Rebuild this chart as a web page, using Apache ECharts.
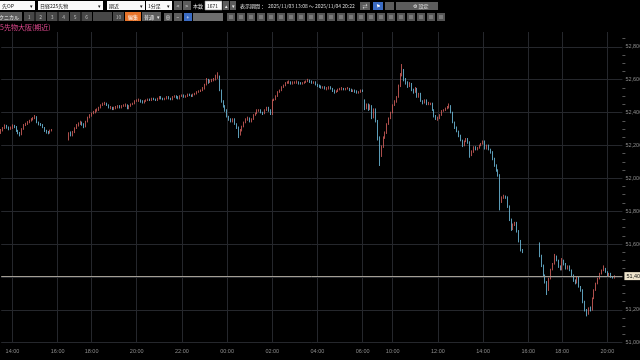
<!DOCTYPE html>
<html><head><meta charset="utf-8">
<script src="https://cdn.jsdelivr.net/npm/echarts@6/dist/echarts.min.js"></script>
<style>html,body{margin:0;padding:0;background:#000;overflow:hidden}#c{width:640px;height:360px}</style>
</head><body><div id="c"></div>
<script>
// ---- time slots (5-minute) ----
const slotSpans = [
  ['2025-11-03T13:30', '2025-11-03T16:25'],
  ['2025-11-03T17:00', '2025-11-04T06:00'],
  ['2025-11-04T08:45', '2025-11-04T16:25'],
  ['2025-11-04T17:00', '2025-11-04T20:40']
];
const tickLabels = ['11/03 14:00','11/03 16:00','11/03 18:00','11/03 20:00','11/03 22:00',
  '11/04 00:00','11/04 02:00','11/04 04:00','11/04 06:00','11/04 10:00','11/04 12:00',
  '11/04 14:00','11/04 16:00','11/04 18:00','11/04 20:00'];
const yTicks = [51000, 51200, 51400, 51600, 51800, 52000, 52200, 52400, 52600, 52800];

// ---- OHLC rows: [open, close, low, high], 5-minute bars ----
const sessA_start = '11/03 13:30';
const sessA = [
[52280,52290,52270,52300],[52290,52305,52285,52312],[52305,52320,52300,52328],[52320,52310,52302,52325],
[52310,52300,52292,52315],[52300,52305,52295,52315],[52305,52320,52300,52328],[52320,52315,52305,52325],
[52315,52290,52282,52318],[52290,52275,52268,52295],[52275,52265,52255,52282],[52265,52300,52262,52305],
[52300,52325,52295,52330],[52325,52330,52318,52338],[52330,52340,52325,52348],[52340,52350,52335,52356],
[52350,52360,52345,52366],[52360,52365,52352,52372],[52365,52375,52360,52385],[52375,52340,52335,52378],
[52340,52330,52322,52345],[52330,52325,52318,52336],[52325,52310,52305,52330],[52310,52290,52282,52312],
[52290,52280,52272,52295],[52280,52275,52268,52288],[52275,52290,52272,52296],[52290,52295,52285,52300]
];
const sessB_start = '11/03 17:00';
const sessB = [
[52245,52275,52230,52280],[52275,52260,52255,52285],[52260,52280,52255,52288],[52280,52305,52275,52310],
[52305,52325,52300,52330],[52325,52330,52315,52340],[52330,52340,52325,52350],[52340,52330,52320,52345],
[52330,52315,52305,52335],[52315,52345,52310,52350],[52345,52370,52340,52375],[52370,52385,52365,52390],
[52385,52395,52375,52400],[52395,52400,52390,52410],[52400,52415,52395,52420],[52415,52415,52405,52425],
[52415,52430,52410,52435],[52430,52445,52425,52450],[52445,52450,52440,52460],[52450,52455,52445,52465],
[52455,52445,52440,52460],[52445,52430,52425,52450],[52430,52430,52420,52440],[52430,52425,52415,52435],
[52425,52425,52415,52435],[52425,52430,52420,52440],[52430,52440,52425,52445],[52440,52430,52425,52445],
[52430,52440,52425,52445],[52440,52445,52435,52450],[52445,52445,52435,52455],[52445,52425,52420,52450],
[52425,52440,52420,52445],[52440,52450,52435,52455],[52450,52455,52445,52460],[52455,52470,52450,52475],
[52470,52475,52465,52480],[52475,52475,52465,52485],[52475,52470,52460,52480],[52470,52460,52455,52475],
[52460,52470,52455,52475],[52470,52475,52465,52480],[52475,52480,52470,52485],[52480,52475,52470,52485],
[52475,52485,52470,52490],[52485,52480,52475,52490],[52480,52475,52470,52485],[52475,52485,52470,52490],
[52485,52495,52480,52500],[52495,52485,52480,52500],[52485,52480,52475,52490],[52480,52485,52475,52490],
[52485,52495,52480,52500],[52495,52485,52480,52500],[52485,52480,52475,52490],[52480,52495,52475,52500],
[52495,52500,52490,52505],[52500,52495,52485,52505],[52495,52485,52480,52500],[52485,52500,52480,52505],
[52500,52505,52495,52510],[52505,52495,52490,52510],[52495,52500,52490,52505],[52500,52510,52495,52515],
[52510,52505,52500,52515],[52505,52500,52495,52510],[52500,52510,52495,52515],[52510,52515,52505,52520],
[52515,52525,52510,52530],[52525,52530,52520,52535],[52530,52535,52525,52540],[52535,52545,52530,52555],
[52545,52570,52540,52575],[52570,52600,52565,52610],[52600,52585,52575,52605],[52585,52590,52580,52600],
[52590,52595,52585,52605],[52595,52600,52590,52610],[52600,52620,52595,52630],[52620,52620,52605,52645],
[52620,52535,52530,52625],[52535,52470,52460,52540],[52470,52440,52430,52475],[52440,52415,52405,52445],
[52415,52375,52370,52420],[52375,52360,52350,52380],[52360,52345,52340,52365],[52345,52360,52340,52365],
[52360,52330,52325,52365],[52330,52310,52300,52335],[52310,52270,52245,52315],[52270,52290,52260,52300],
[52290,52315,52285,52320],[52315,52340,52310,52345],[52340,52360,52335,52365],[52360,52365,52350,52375],
[52365,52345,52340,52370],[52345,52360,52340,52365],[52360,52385,52355,52390],[52385,52395,52380,52400],
[52395,52415,52390,52420],[52415,52415,52405,52420],[52415,52400,52395,52420],[52400,52395,52385,52405],
[52395,52415,52390,52420],[52415,52430,52410,52435],[52430,52415,52405,52435],[52415,52390,52385,52420],
[52390,52475,52385,52480],[52475,52480,52470,52485],[52480,52500,52475,52505],[52500,52525,52495,52530],
[52525,52535,52520,52540],[52535,52555,52530,52560],[52555,52565,52550,52570],[52565,52580,52560,52585],
[52580,52585,52575,52590],[52585,52585,52575,52595],[52585,52580,52570,52590],[52580,52580,52570,52590],
[52580,52585,52575,52590],[52585,52585,52575,52595],[52585,52580,52570,52590],[52580,52575,52570,52585],
[52575,52580,52570,52585],[52580,52585,52575,52590],[52585,52590,52580,52595],[52590,52595,52585,52605],
[52595,52590,52580,52600],[52590,52585,52575,52595],[52585,52585,52575,52590],[52585,52570,52565,52590],
[52570,52565,52555,52575],[52565,52560,52550,52570],[52560,52555,52545,52565],[52555,52555,52545,52560],
[52555,52545,52540,52560],[52545,52545,52535,52555],[52545,52555,52540,52560],[52555,52545,52540,52560],
[52545,52535,52525,52550],[52535,52525,52515,52540],[52525,52530,52520,52535],[52530,52540,52525,52545],
[52540,52545,52535,52550],[52545,52545,52535,52555],[52545,52540,52535,52550],[52540,52545,52535,52550],
[52545,52545,52540,52555],[52545,52540,52530,52550],[52540,52535,52525,52545],[52535,52535,52525,52540],
[52535,52530,52520,52540],[52530,52525,52515,52535],[52525,52525,52515,52530],[52525,52535,52520,52540],
[52535,52530,52525,52540]
];
const sessC_start = '11/04 08:45';
const sessC = [
[52470,52430,52415,52480],[52430,52450,52420,52455],[52450,52420,52410,52455],[52420,52440,52415,52450],
[52440,52370,52360,52445],[52370,52420,52365,52425],[52420,52350,52340,52425],[52350,52250,52230,52355],
[52250,52150,52075,52255],[52150,52190,52130,52200],[52190,52250,52185,52255],[52250,52275,52240,52285],
[52275,52330,52270,52335],[52330,52365,52325,52370],[52365,52400,52360,52405],[52400,52445,52395,52450],
[52445,52465,52440,52475],[52465,52495,52460,52500],[52495,52560,52490,52570],[52560,52630,52555,52640],
[52630,52660,52620,52695],[52660,52600,52590,52665],[52600,52580,52570,52610],[52580,52560,52550,52590],
[52560,52575,52555,52585],[52575,52535,52530,52580],[52535,52525,52515,52545],[52525,52545,52520,52555],
[52545,52495,52490,52550],[52495,52515,52490,52520],[52515,52470,52465,52520],[52470,52460,52450,52475],
[52460,52475,52455,52480],[52475,52450,52445,52480],[52450,52455,52445,52465],[52455,52455,52445,52460],
[52455,52415,52410,52460],[52415,52380,52370,52420],[52380,52360,52355,52385],[52360,52365,52350,52375],
[52365,52385,52360,52390],[52385,52410,52380,52415],[52410,52415,52405,52420],[52415,52425,52410,52430],
[52425,52430,52420,52440],[52430,52440,52425,52455],[52440,52400,52395,52445],[52400,52340,52335,52405],
[52340,52310,52300,52345],[52310,52285,52280,52315],[52285,52260,52250,52290],[52260,52230,52225,52265],
[52230,52200,52190,52235],[52200,52225,52195,52230],[52225,52240,52220,52245],[52240,52220,52210,52245],
[52220,52140,52125,52225],[52140,52160,52135,52170],[52160,52190,52155,52195],[52190,52180,52170,52195],
[52180,52185,52170,52190],[52185,52200,52180,52205],[52200,52210,52195,52215],[52210,52225,52205,52230],
[52225,52180,52175,52230],[52180,52200,52175,52205],[52200,52175,52170,52205],[52175,52160,52150,52180],
[52160,52120,52110,52165],[52120,52080,52070,52125],[52080,52050,52040,52085],[52050,52020,52010,52055],
[52020,51860,51805,52025],[51860,51880,51850,51890],[51880,51890,51875,51900],[51890,51885,51875,51895],
[51885,51830,51820,51890],[51830,51750,51740,51835],[51750,51690,51680,51755],[51690,51715,51685,51725],
[51715,51730,51710,51735],[51730,51680,51670,51735],[51680,51620,51610,51685],[51620,51565,51555,51625],
[51565,51550,51545,51570]
];
const sessD_start = '11/04 17:00';
const sessD = [
[51600,51530,51520,51610],[51530,51470,51460,51535],[51470,51410,51400,51475],[51410,51370,51360,51415],
[51370,51320,51290,51375],[51320,51390,51315,51395],[51390,51445,51385,51450],[51445,51480,51440,51485],
[51480,51525,51475,51540],[51525,51500,51495,51530],[51500,51460,51455,51505],[51460,51445,51440,51470],
[51445,51500,51440,51515],[51500,51480,51470,51505],[51480,51450,51445,51485],[51450,51465,51445,51470],
[51465,51440,51435,51470],[51440,51410,51405,51445],[51410,51380,51370,51415],[51380,51365,51355,51385],
[51365,51400,51360,51405],[51400,51340,51335,51405],[51340,51320,51310,51345],[51320,51250,51240,51325],
[51250,51200,51190,51255],[51200,51175,51160,51205],[51175,51210,51170,51215],[51210,51200,51190,51220],
[51200,51270,51195,51275],[51270,51320,51265,51325],[51320,51360,51315,51365],[51360,51390,51355,51395],
[51390,51420,51385,51425],[51420,51440,51415,51445],[51440,51450,51435,51470],[51450,51430,51425,51455],
[51430,51410,51405,51435],[51410,51420,51405,51425],[51420,51400,51395,51425],[51400,51395,51390,51405],
[51395,51405,51390,51410]
];

// ---- build category axis + series table ----
function pad(n){return (n<10?'0':'')+n;}
const categories = [];
slotSpans.forEach(([a,b])=>{
  let t = Date.parse(a+'Z'), e = Date.parse(b+'Z');
  for(; t<=e; t+=5*60000){
    const d = new Date(t);
    categories.push(pad(d.getUTCMonth()+1)+'/'+pad(d.getUTCDate())+' '+pad(d.getUTCHours())+':'+pad(d.getUTCMinutes()));
  }
});
const ohlc = categories.map(()=> '-');
[[sessA_start,sessA],[sessB_start,sessB],[sessC_start,sessC],[sessD_start,sessD]].forEach(([s,rows])=>{
  const i0 = categories.indexOf(s);
  rows.forEach((r,j)=>{ ohlc[i0+j] = r; });
});
const lastClose = sessD[sessD.length-1][1];
const tickSet = new Set(tickLabels);
const fmt = v => Number(v).toLocaleString('en-US');

// ---- toolbar graphics ----
const UI = '"Noto Sans CJK JP", sans-serif';
const G = [];
function box(x,y,w,h,fill,stroke){G.push({type:'rect',shape:{x:x,y:y,width:w,height:h},style:{fill:fill,stroke:stroke||null,lineWidth:stroke?0.6:0}});}
function txt(x,y,s,color,size,align){G.push({type:'text',x:x,y:y,style:{text:s,fill:color,font:(size||5)+'px '+UI,align:align||'left',verticalAlign:'middle',textAlign:align||'left',textVerticalAlign:'middle'}});}
// row 1
box(0,1,35,9,'#fafafa'); txt(2,5.6,'先OP','#111'); txt(33,5.6,'▾','#111',5,'right');
box(38,1,65,9,'#fafafa'); txt(40,5.6,'日経225先物','#111'); txt(101,5.6,'▾','#111',5,'right');
box(107,1,38,9,'#fafafa'); txt(109,5.6,'期近','#111'); txt(143,5.6,'▾','#111',5,'right');
box(146,1,26,9,'#fafafa'); txt(148,5.6,'1分足','#111'); txt(170,5.6,'▾','#111',5,'right');
box(174,1,8,9,'#5c5c5c'); txt(178,5.6,'<','#eee',5,'center');
box(183,1,8,9,'#5c5c5c'); txt(187,5.6,'>','#eee',5,'center');
txt(193,5.6,'本数','#e6e6e6');
box(205,1,17,9,'#fafafa','#888'); txt(207,5.6,'1671','#111');
box(223,1,6,9,'#5c5c5c'); txt(226,5.6,'▴','#eee',5,'center');
box(230,1,6,9,'#5c5c5c'); txt(233,5.6,'▾','#eee',5,'center');
txt(240,5.6,'表示期間：','#e6e6e6');
txt(268,5.6,'2025/11/03 13:08 ～ 2025/11/04 20:22','#dcdcdc');
box(360,2,10,8,'#5c5c5c'); txt(365,5.8,'⇄','#eee',5,'center');
box(373,2,10,8,'#3b6cc4'); txt(378,5.8,'⚑','#fff',5,'center');
box(385,2,9,8,'#5c5c5c'); box(396,2,9,8,'#5c5c5c');
box(405,2,33,8,'#5c5c5c'); txt(421,5.8,'⚙ 設定','#eee',5,'center');
// row 2
box(-10,12,32,9,'#5c5c5c'); txt(-6,16.6,'テクニカル','#eee');
['1','2','3','4','5','6'].forEach((s,i)=>{ box(24+i*11.5,12,10.5,9,'#474747'); txt(29.2+i*11.5,16.6,s,'#bbb',5,'center'); });
box(93,12,19,9,'#474747');
box(113,12,11,9,'#474747'); txt(118.5,16.6,'10','#bbb',5,'center');
box(125,12,16,9,'#e8742a'); txt(133,16.6,'編集','#fff',5,'center');
box(142,12,19,9,'#5c5c5c'); txt(144,16.6,'普通','#eee'); txt(159.5,16.6,'▾','#eee',5,'right');
box(164,13,8,8,'#5c5c5c'); txt(168,16.8,'⊕','#eee',5,'center');
box(174,13,8,8,'#5c5c5c'); txt(178,16.8,'−','#eee',5,'center');
box(184,13,8,8,'#3b6cc4'); txt(188,16.8,'+','#fff',5,'center');
box(193,13,30,8,'#6e6e6e');
for(let x=227;x<=441;x+=10){ box(x,13,8,8,'#565656'); box(x+2,15,4,4,'#7a7a7a'); }
// title
txt(0,27.5,'5先物大阪(期近)','#e0488e',7);

// ---- chart ----
const chart = echarts.init(document.getElementById('c'), null, {renderer:'canvas'});
chart.setOption({
  backgroundColor:'#000',
  animation:false,
  grid:{left:1.2, top:32, width:621.2, height:310.7, containLabel:false, outerBoundsMode:'none'},
  xAxis:{
    type:'category', data:categories, boundaryGap:false,
    axisLine:{show:false}, axisTick:{show:false},
    axisLabel:{interval:(i,v)=>tickSet.has(v), formatter:v=>v.slice(6), color:'#8c8c8c', fontSize:5.5, margin:6, fontFamily:'Liberation Sans'},
    splitLine:{show:true, interval:(i,v)=>tickSet.has(v), lineStyle:{color:'#25272c', width:1}}
  },
  yAxis:{
    type:'value', position:'right', min:yTicks[0], max:52890, interval:200, scale:true,
    axisLine:{show:false}, axisTick:{show:false},
    minorTick:{show:true, splitNumber:4, length:3, lineStyle:{color:'#555'}},
    axisLabel:{formatter:v=>fmt(v), color:'#8c8c8c', fontSize:5.5, margin:3, showMaxLabel:false, fontFamily:'Liberation Sans'},
    splitLine:{show:true, showMaxLine:false, lineStyle:{color:'#25272c', width:1}}
  },
  series:[{
    type:'candlestick', data:ohlc, barWidth:1.3,
    itemStyle:{color:'#d9625e', color0:'#72c4e6', borderColor:'#d9625e', borderColor0:'#72c4e6', borderWidth:0.8},
    markLine:{
      silent:true, symbol:['none','none'], animation:false,
      lineStyle:{color:'#a39e94', width:1, type:'solid'},
      label:{show:true, position:'end', distance:2, formatter:p=>fmt(p.value), color:'#111', backgroundColor:'#efe5cd', fontSize:5.5, padding:[1,3,1,2], fontFamily:'Liberation Sans'},
      data:[{yAxis:lastClose}]
    }
  }],
  graphic:G
});
</script></body></html>
